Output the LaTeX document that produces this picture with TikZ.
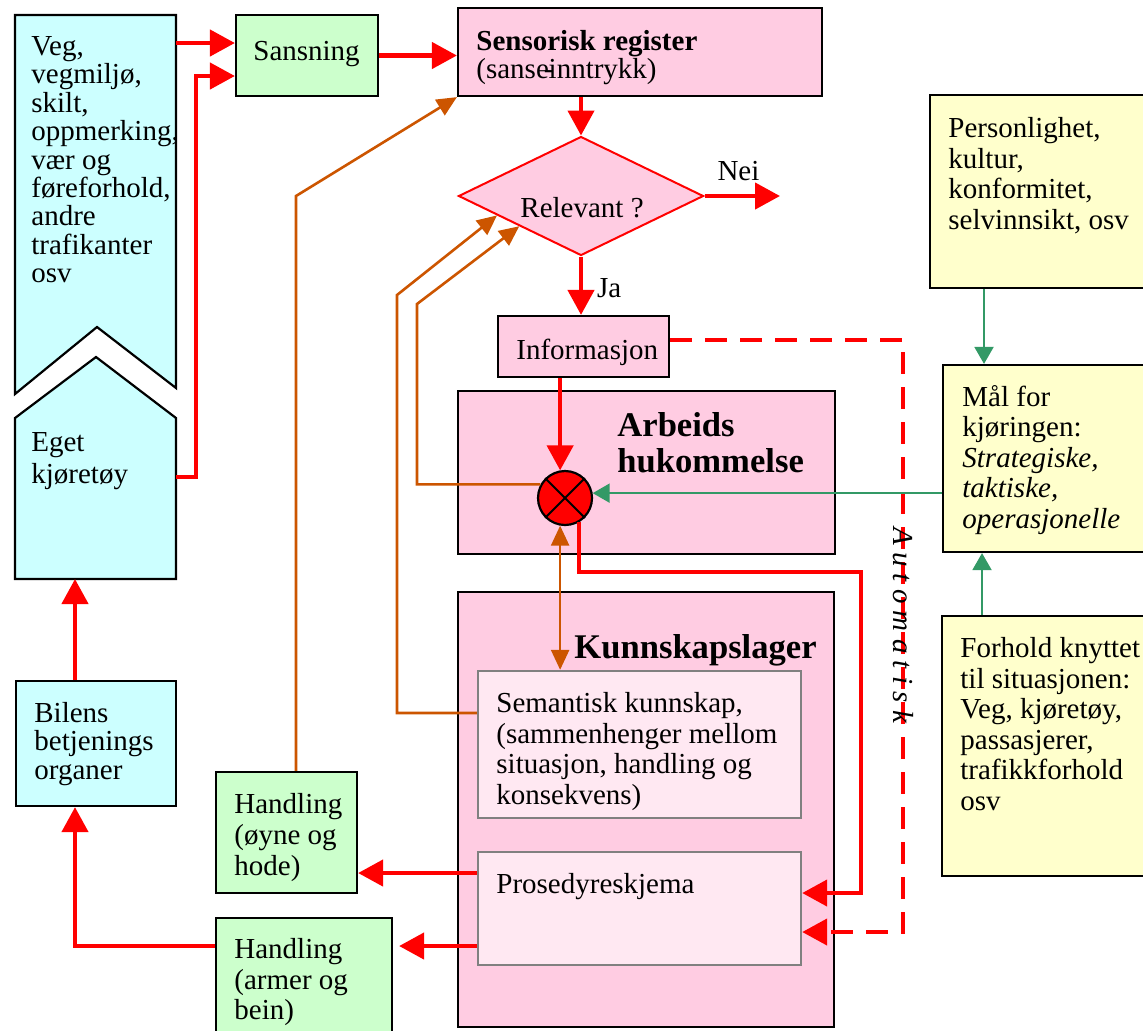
\documentclass[tikz,border=0pt]{standalone}
\usepackage{fontspec}
\setmainfont{Liberation Serif}
\usetikzlibrary{arrows.meta, shapes.geometric, fit}
\usepackage{color}

\definecolor{cyanbg}{RGB}{204,255,255}
\definecolor{greenbg}{RGB}{204,255,204}
\definecolor{pinkbg}{RGB}{255,204,226}
\definecolor{palepink}{RGB}{255,232,242}
\definecolor{yellowbg}{RGB}{255,255,204}
\definecolor{brownline}{RGB}{204,85,0}
\definecolor{seagreen}{RGB}{51,153,102}

\newcommand{\txtsize}{\fontsize{14.5}{15.25}\selectfont}
\newcommand{\bigbold}{\fontsize{17.3}{18}\selectfont\bfseries}

\begin{document}
\begin{tikzpicture}[x=0.5pt,y=-0.5pt,font=\txtsize,
    box/.style={draw, line width=1.1pt, inner sep=0pt},
    inbox/.style={draw=gray, line width=1.2pt, fill=palepink, inner sep=0pt},
    txt/.style={inner sep=0pt, anchor=north west, align=left},
    redtip/.style={-{Triangle[length=12.5pt,width=13pt]}},
    redarr/.style={draw=red, line width=2.2pt, redtip},
    reddash/.style={draw=red, line width=2.2pt, dash pattern=on 11pt off 6.5pt, redtip},
    brownln/.style={draw=brownline, line width=1.3pt},
    brownarr/.style={brownln, -{Triangle[length=10pt,width=9pt]}},
    browntwo/.style={brownln, {Triangle[length=10pt,width=9pt]}-{Triangle[length=10pt,width=9pt]}},
    seaarr/.style={draw=seagreen, line width=1pt, -{Triangle[length=8.5pt,width=9.5pt]}}]

  \useasboundingbox (0,0) rectangle (1143,1030);

  % road and own vehicle
  \draw[box, fill=cyanbg] (15,15) -- (176,15) -- (176,388) -- (97,327) -- (15,394) -- cycle;
  \draw[box, fill=cyanbg] (96,357) -- (176,418) -- (176,579) -- (15,579) -- (15,418) -- cycle;
  \coordinate (vegR) at (176,43);
  \coordinate (egetR) at (176,477);
  \coordinate (egetS) at (75,579);

  % boxes
  \node[box, fill=greenbg, fit={(236,15) (378,96)}] (sans) {};
  \node[box, fill=pinkbg, fit={(458,8) (822,96)}] (sens) {};
  \node[diamond, draw=red, line width=1pt, fill=pinkbg, aspect=2, inner sep=0pt,
        minimum width=122.5pt, minimum height=59.5pt] (rel) at (581,196) {};
  \node[box, fill=pinkbg, fit={(498,316) (669,377)}] (info) {};
  \node[box, fill=pinkbg, fit={(458,391) (835,554)}] (arb) {};
  \node[box, fill=pinkbg, fit={(458,592) (834,1027)}] (kunn) {};
  \node[inbox, fit={(478,671) (801,818)}] (sem) {};
  \node[inbox, fit={(478,852) (801,965)}] (pros) {};
  \node[box, fill=greenbg, fit={(216,772) (357,893)}] (hand1) {};
  \node[box, fill=greenbg, fit={(216,918) (392,1040)}] (hand2) {};
  \node[box, fill=cyanbg, fit={(16,681) (176,806)}] (bil) {};
  \node[box, fill=yellowbg, fit={(930,95) (1150,288)}] (pers) {};
  \node[box, fill=yellowbg, fit={(943,365) (1150,552)}] (mal) {};
  \node[box, fill=yellowbg, fit={(942,616) (1150,876)}] (forh) {};
  \node[circle, draw, line width=1.1pt, fill=red, minimum size=27pt, inner sep=0pt] (c) at (565,498) {};
  \draw[line width=1pt] (c.45) -- (c.225) (c.135) -- (c.-45);

  % texts
  \node[txt, font=\fontsize{14.5}{14.2}\selectfont] (vegt) at (31,36)
    {Veg,\\vegmiljø,\\skilt,\\oppmerking,\\vær og\\føreforhold,\\andre\\trafikanter\\osv};
  \node[txt, font=\fontsize{14.5}{16}\selectfont] (egett) at (31,432) {Eget\\kjøretøy};
  \node[inner sep=0pt, anchor=base west] (sanst) at (253,60) {Sansning};
  \node[txt, font=\fontsize{14.5}{14}\selectfont] (senst) at (476,30)
    {\textbf{Sensorisk register}\\(sanse\kern-.17em-\kern-.17em inntrykk)};
  \node[inner sep=0pt, anchor=base] (relt) at (582,217) {Relevant ?};
  \node[inner sep=0pt, anchor=base west] (infot) at (516,359) {Informasjon};
  \node[txt, font=\bigbold] (arbt) at (617,412) {Arbeids\\hukommelse};
  \node[inner sep=0pt, anchor=base west, font=\bigbold] (kunnt) at (574,658) {Kunnskapslager};
  \node[txt, font=\fontsize{14.5}{15.3}\selectfont] (semt) at (496,692)
    {Semantisk kunnskap,\\(sammenhenger mellom\\situasjon, handling og\\konsekvens)};
  \node[inner sep=0pt, anchor=base west] (prost) at (496,893) {Prosedyreskjema};
  \node[txt, font=\fontsize{14.5}{15.5}\selectfont] (hand1t) at (234,793) {Handling\\(øyne og\\hode)};
  \node[txt, font=\fontsize{14.5}{15.3}\selectfont] (hand2t) at (234,938) {Handling\\(armer og\\bein)};
  \node[txt, font=\fontsize{14.5}{14.2}\selectfont] (bilt) at (34,702) {Bilens\\betjenings\\organer};
  \node[txt] (perst) at (948,117) {Personlighet,\\kultur,\\konformitet,\\selvinnsikt, osv};
  \node[txt] (malt) at (962,385)
    {Mål for\\kjøringen:\\\textit{Strategiske,}\\\textit{taktiske,}\\\textit{operasjonelle}};
  \node[txt, font=\fontsize{14.5}{15.3}\selectfont] (forht) at (960,637)
    {Forhold knyttet\\til situasjonen:\\Veg, kjøretøy,\\passasjerer,\\trafikkforhold\\osv};

  % joints
  \coordinate (j1) at (196,76);
  \coordinate (nei) at (780,196);
  \coordinate (j2) at (861,572);
  \coordinate (j3) at (861,893);
  \coordinate (d1) at (903,340);
  \coordinate (d2) at (903,932);
  \coordinate (g1) at (984,300);
  \coordinate (g2) at (982,600);
  \coordinate (o1) at (417,304);
  \coordinate (o3) at (397,713);
  \coordinate (o4) at (397,295);
  \coordinate (o5) at (296,196);
  \coordinate (r1) at (420,873);
  \coordinate (r2) at (420,946);
  \coordinate (b1) at (75,946);

  % red paths
  \draw[redarr] (vegR) -- (vegR -| sans.west);
  \draw[redarr] (egetR) -| (j1) -- (j1 -| sans.west);
  \draw[redarr] (sans.east) -- (sans.east -| sens.west);
  \draw[redarr] (sens.south -| rel.north) -- (rel.north);
  \draw[redarr] (rel.east) -- (nei) node[pos=0.45, above=6.5pt, inner sep=0pt] {Nei};
  \draw[redarr] (rel.south) -- (rel.south |- info.north) node[pos=0.55, right=7pt, inner sep=0pt] {Ja};
  \draw[redarr] (info.south -| c.100) -- (c.100);
  \draw[redarr] (c.-60) |- (j2) -- (j3) -- (j3 -| pros.east);
  \draw[reddash] (info.east |- d1) -- (d1) -- (d2) -- (d2 -| pros.east);
  \draw[redarr] (r1 -| pros.west) -- (r1 -| hand1.east);
  \draw[redarr, shorten >=3pt] (r2 -| pros.west) -- (r2 -| hand2.east);
  \draw[redarr] (b1 -| hand2.west) -- (b1) -- (b1 |- bil.south);
  \draw[redarr] (b1 |- bil.north) -- (egetS);

  % green paths
  \draw[seaarr] (mal.west |- c.10) -- (c.10);
  \draw[seaarr] (g1 |- pers.south) -- (g1 |- mal.north);
  \draw[seaarr] (g2 |- forh.north) -- (g2 |- mal.south);

  % brown paths
  \draw[brownarr] (c.151) -| (o1) -- (rel.south west);
  \draw[brownarr] (o3 -| sem.west) -- (o3) -- (o4) -- (rel.193);
  \draw[brownarr] (hand1.north -| o5) -- (o5) -- (sens.south west);
  \draw[browntwo] (sem.north -| c.-100) -- (c.-100);

  \node[rotate=-90, inner sep=0pt, font=\txtsize\itshape] (auto) at (903,625) {A u t o m a t i s k};
\end{tikzpicture}
\end{document}
